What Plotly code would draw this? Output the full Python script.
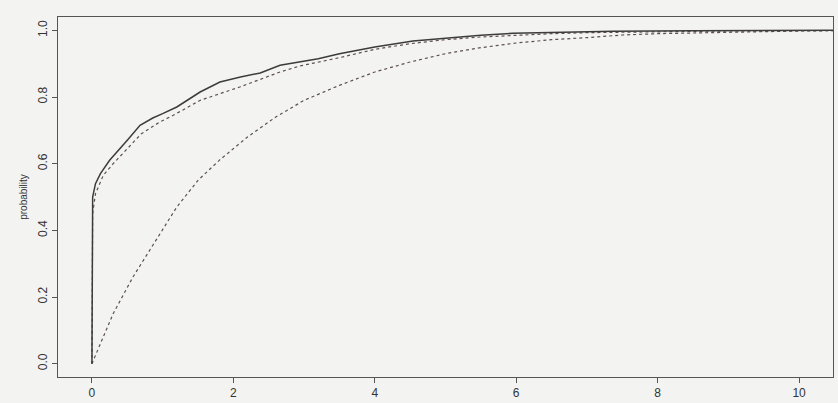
import plotly.graph_objects as go

# Empirical CDF (solid)
ecdf_x = [0, 0, 0.01, 0.05, 0.12, 0.25, 0.4, 0.5, 0.68, 0.86, 1.0, 1.2, 1.53, 1.81, 2.1, 2.38,
          2.66, 2.94, 3.2, 3.5, 4.0, 4.54, 5.0, 5.5, 5.95, 6.5, 7.37, 8.5, 10.5]
ecdf_y = [0, 0.45, 0.50, 0.54, 0.57, 0.61, 0.645, 0.67, 0.715, 0.737, 0.75, 0.77, 0.815, 0.845,
          0.86, 0.872, 0.895, 0.905, 0.915, 0.93, 0.95, 0.968, 0.977, 0.985, 0.991, 0.994, 0.997,
          0.999, 1.0]

# Close theoretical CDF (dotted)
cdf1_x = [0, 0.005, 0.01, 0.05, 0.16, 0.3, 0.5, 0.7, 0.96, 1.15, 1.53, 2.09, 2.66, 2.94, 3.5,
          4.0, 4.5, 5.0, 5.5, 6.0, 6.5, 7.0, 8.0, 9.0, 10.5]
cdf1_y = [0, 0.2, 0.45, 0.51, 0.565, 0.6, 0.645, 0.69, 0.725, 0.745, 0.79, 0.83, 0.875, 0.893,
          0.918, 0.943, 0.96, 0.972, 0.98, 0.986, 0.99, 0.993, 0.996, 0.998, 0.999]

# Far theoretical CDF (dotted)
cdf2_x = [0, 0.1, 0.3, 0.58, 0.9, 1.2, 1.5, 1.8, 2.2, 2.6, 3.0, 3.5, 4.0, 4.5, 5.0, 5.5, 6.0,
          6.5, 7.0, 7.5, 8.0, 9.0, 10.0, 10.5]
cdf2_y = [0, 0.05, 0.15, 0.26, 0.37, 0.47, 0.55, 0.61, 0.68, 0.74, 0.79, 0.835, 0.875, 0.905,
          0.93, 0.948, 0.962, 0.972, 0.978, 0.986, 0.99, 0.995, 0.998, 0.999]

x_ticks = [0, 2, 4, 6, 8, 10]
y_ticks = [0.0, 0.2, 0.4, 0.6, 0.8, 1.0]
y_tick_labels = ["0.0", "0.2", "0.4", "0.6", "0.8", "1.0"]

fig = go.Figure()
fig.add_trace(go.Scatter(x=cdf2_x, y=cdf2_y, mode="lines",
                         line=dict(color="#5e5050", width=1.2, dash="dot"), showlegend=False))
fig.add_trace(go.Scatter(x=cdf1_x, y=cdf1_y, mode="lines",
                         line=dict(color="#5e5050", width=1.2, dash="dot"), showlegend=False))
fig.add_trace(go.Scatter(x=ecdf_x, y=ecdf_y, mode="lines",
                         line=dict(color="#3c3c3c", width=1.5), showlegend=False))

axis_font = dict(family="Liberation Sans, Arial, sans-serif", size=12, color="#333333")
fig.update_layout(
    width=838, height=403,
    margin=dict(l=58, r=5, t=17, b=26),
    paper_bgcolor="#f3f3f1", plot_bgcolor="#f3f3f1",
    xaxis=dict(range=[-0.48, 10.48], tickvals=x_ticks, ticks="outside", ticklen=5,
               tickcolor="#555", showline=True, linecolor="#555", linewidth=1, mirror=True,
               showgrid=False, zeroline=False, tickfont=axis_font, automargin=False),
    yaxis=dict(range=[-0.04, 1.04], tickvals=y_ticks, ticktext=y_tick_labels, ticks="outside",
               ticklen=5, tickcolor="#555", showline=True, linecolor="#555", linewidth=1,
               mirror=True, showgrid=False, zeroline=False, tickangle=-90, tickfont=axis_font,
               automargin=False,
               title=dict(text="probability", standoff=6,
                          font=dict(family="Liberation Sans, Arial, sans-serif", size=10,
                                    color="#333333"))),
)

fig.write_html("out.html", config={"displayModeBar": False},
               post_script="document.body.style.margin='0';document.body.style.background='#f3f3f1';")
